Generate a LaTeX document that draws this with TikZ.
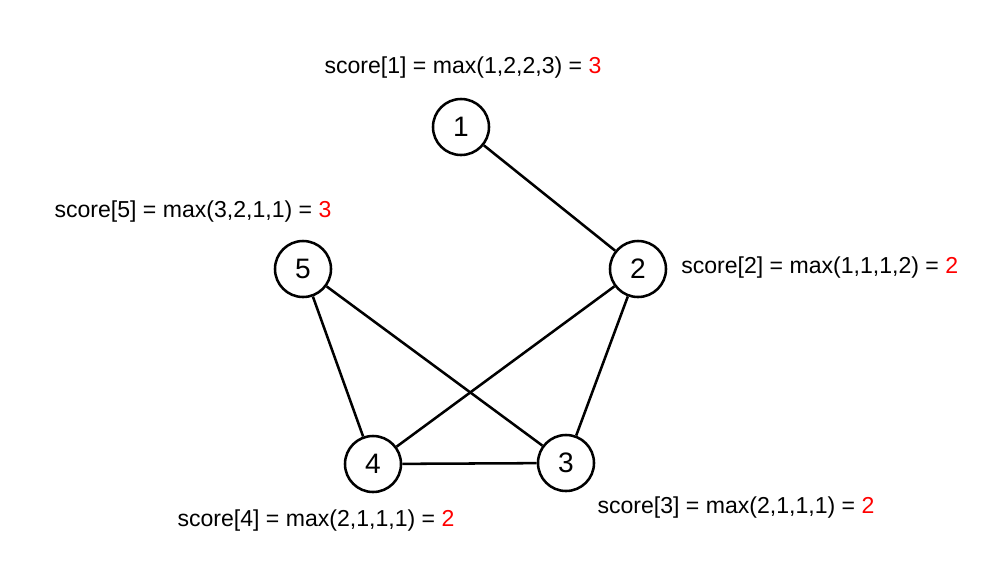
\documentclass[tikz,border=0pt]{standalone}
\usepackage{fontspec}
\setmainfont{Liberation Sans}

\begin{document}
\begin{tikzpicture}[x=0.025cm, y=-0.025cm,
        vertex/.style={draw, circle, line width=1.8pt, minimum size=1.4cm, inner sep=0pt, font=\fontsize{20}{24}\selectfont},
        scorelbl/.style={font=\fontsize{16.4}{19}\selectfont, inner sep=0pt}]
        \path[use as bounding box] (0,0) rectangle (1001,562);

        \node [vertex] (v1) at (461, 127) {1};
        \node [vertex] (v2) at (638, 269) {2};
        \node [vertex] (v5) at (303, 269) {5};
        \node [vertex] (v4) at (373, 464) {4};
        \node [vertex] (v3) at (566, 463) {3};

        \node [scorelbl] (s1) at (463, 68) {score[1] = max(1,2,2,3) = \textcolor{red}{3}};
        \node [scorelbl, anchor=west] (s2) at (681, 268) {score[2] = max(1,1,1,2) = \textcolor{red}{2}};
        \node [scorelbl] (s3) at (736, 508) {score[3] = max(2,1,1,1) = \textcolor{red}{2}};
        \node [scorelbl] (s4) at (316, 521) {score[4] = max(2,1,1,1) = \textcolor{red}{2}};
        \node [scorelbl] (s5) at (193, 212) {score[5] = max(3,2,1,1) = \textcolor{red}{3}};

        \draw[line width=1.8pt] (v1) -- (v2);
        \draw[line width=1.8pt] (v2) -- (v4);
        \draw[line width=1.8pt] (v2) -- (v3);
        \draw[line width=1.8pt] (v5) -- (v4);
        \draw[line width=1.8pt] (v5) -- (v3);
        \draw[line width=1.8pt] (v4) -- (v3);
      \end{tikzpicture}
\end{document}
